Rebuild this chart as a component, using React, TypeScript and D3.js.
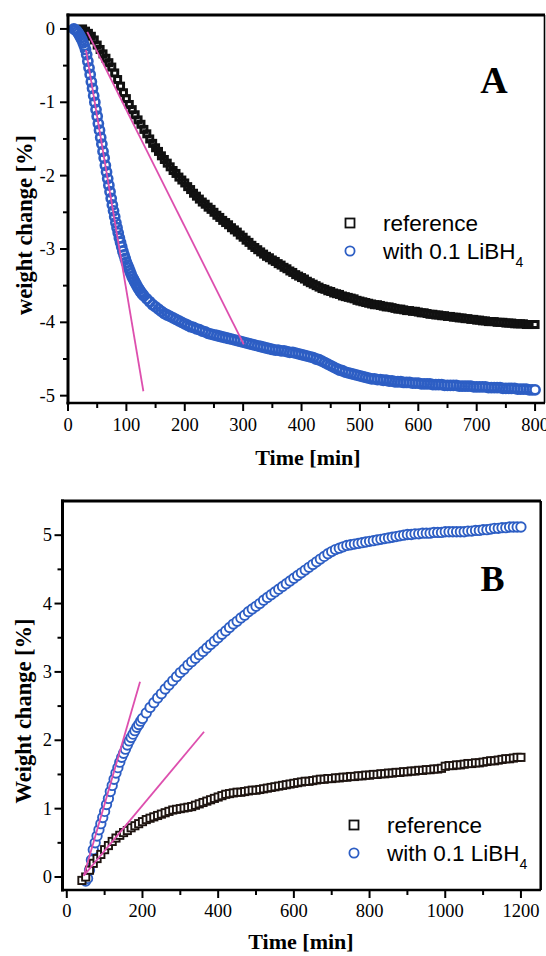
import React from 'react';
import * as d3 from 'd3';

// ---------- Panel A data (weight change %, time in min) ----------
const A_REF_T0 = 25;
const A_REF_DT = 5;
const aReference = [
  0.00, -0.03, -0.06, -0.10, -0.15, -0.22, -0.28, -0.34, -0.40, -0.46,
  -0.52, -0.60, -0.69, -0.78, -0.87, -0.95, -1.03, -1.10, -1.17, -1.24,
  -1.30, -1.37, -1.43, -1.50, -1.56, -1.62, -1.67, -1.73, -1.78, -1.83,
  -1.88, -1.93, -1.97, -2.02, -2.06, -2.10, -2.15, -2.19, -2.24, -2.28,
  -2.32, -2.36, -2.39, -2.43, -2.46, -2.50, -2.54, -2.57, -2.61, -2.64,
  -2.67, -2.71, -2.74, -2.77, -2.81, -2.84, -2.88, -2.91, -2.95, -2.98,
  -3.01, -3.04, -3.07, -3.10, -3.12, -3.15, -3.17, -3.20, -3.22, -3.25,
  -3.27, -3.30, -3.32, -3.35, -3.37, -3.39, -3.41, -3.44, -3.46, -3.48,
  -3.50, -3.52, -3.54, -3.55, -3.57, -3.58, -3.60, -3.61, -3.62, -3.64,
  -3.65, -3.66, -3.67, -3.68, -3.70, -3.71, -3.72, -3.73, -3.74, -3.75,
  -3.76, -3.76, -3.77, -3.78, -3.79, -3.79, -3.80, -3.81, -3.82, -3.82,
  -3.83, -3.84, -3.84, -3.85, -3.85, -3.86, -3.87, -3.87, -3.88, -3.89,
  -3.89, -3.90, -3.90, -3.91, -3.91, -3.92, -3.92, -3.93, -3.93, -3.94,
  -3.94, -3.95, -3.95, -3.96, -3.96, -3.97, -3.97, -3.98, -3.98, -3.99,
  -3.99, -3.99, -4.00, -4.00, -4.00, -4.01, -4.01, -4.01, -4.02, -4.02,
  -4.02, -4.02, -4.03, -4.03, -4.03, -4.03,
];

const A_LIB_EARLY_T0 = 10;
const A_LIB_EARLY_DT = 2;
const aLiBH4Early = [
  0.00, -0.01, -0.02, -0.04, -0.06, -0.09, -0.12, -0.15, -0.19, -0.23,
  -0.28, -0.35, -0.44, -0.53, -0.62, -0.72, -0.81, -0.91, -1.00, -1.10,
  -1.19, -1.29, -1.38, -1.48, -1.57, -1.67, -1.76, -1.86, -1.95, -2.04,
  -2.13, -2.22, -2.31, -2.40, -2.48, -2.56, -2.64, -2.71, -2.78, -2.85,
  -2.91, -2.97, -3.03, -3.08, -3.13, -3.18, -3.22, -3.26, -3.30, -3.34,
  -3.38, -3.41, -3.44, -3.47, -3.50, -3.53, -3.55, -3.58, -3.60, -3.62,
  -3.64,
];
const A_LIB_LATE_T0 = 135;
const A_LIB_LATE_DT = 5;
const aLiBH4Late = [
  -3.68, -3.72, -3.76, -3.79, -3.82, -3.85, -3.88, -3.90, -3.92, -3.94,
  -3.96, -3.98, -4.00, -4.02, -4.04, -4.06, -4.07, -4.09, -4.10, -4.12,
  -4.13, -4.15, -4.16, -4.17, -4.18, -4.19, -4.20, -4.21, -4.22, -4.23,
  -4.24, -4.25, -4.26, -4.27,
  -4.28, -4.29, -4.30, -4.31, -4.32, -4.33, -4.34, -4.35, -4.36, -4.37,
  -4.38, -4.38, -4.39, -4.39, -4.40, -4.41, -4.41, -4.42, -4.43, -4.44,
  -4.45, -4.46, -4.47, -4.48, -4.50, -4.51, -4.53, -4.55, -4.57, -4.59,
  -4.61, -4.63, -4.65, -4.66, -4.68, -4.69, -4.70, -4.71, -4.72, -4.73,
  -4.74, -4.75, -4.76, -4.77, -4.77, -4.78, -4.78, -4.79, -4.79, -4.80,
  -4.80, -4.81, -4.81, -4.81, -4.82, -4.82, -4.82, -4.83, -4.83, -4.83,
  -4.84, -4.84, -4.84, -4.84, -4.85, -4.85, -4.85, -4.85, -4.86, -4.86,
  -4.86, -4.86, -4.86, -4.87, -4.87, -4.87, -4.87, -4.87, -4.88, -4.88,
  -4.88, -4.88, -4.88, -4.89, -4.89, -4.89, -4.89, -4.89, -4.90, -4.90,
  -4.90, -4.90, -4.90, -4.91, -4.91, -4.91, -4.91, -4.92, -4.92, -4.92,
];

// tangent lines [t1, v1, t2, v2]
const aTangents = [
  [30.8, -0.29, 129.1, -4.94],
  [33, -0.04, 301, -4.3],
];

const aXMajor = [0, 100, 200, 300, 400, 500, 600, 700, 800];
const aXMinor = [50, 150, 250, 350, 450, 550, 650, 750];
const aYMajor = [0, -1, -2, -3, -4, -5];
const aYMinor = [-0.5, -1.5, -2.5, -3.5, -4.5];
const aYLabels = ['0', '-1', '-2', '-3', '-4', '-5'];

// ---------- Panel B data ----------
const B_REF_T0 = 40;
const B_REF_DT = 10;
const bReference = [
  -0.05, 0.00, 0.10, 0.20, 0.27, 0.33, 0.40, 0.46, 0.52, 0.57,
  0.61, 0.65, 0.68, 0.72, 0.75, 0.78, 0.81, 0.84, 0.86, 0.88,
  0.90, 0.92, 0.94, 0.96, 0.98, 0.99, 1.00, 1.01, 1.02, 1.03,
  1.05, 1.07, 1.09, 1.11, 1.13, 1.15, 1.17, 1.19, 1.21, 1.22,
  1.23, 1.24, 1.24, 1.25, 1.26, 1.27, 1.27, 1.28, 1.29, 1.30,
  1.31, 1.32, 1.33, 1.34, 1.35, 1.36, 1.37, 1.38, 1.39, 1.40,
  1.40, 1.41, 1.42, 1.43, 1.43, 1.44, 1.44, 1.45, 1.45, 1.46,
  1.46, 1.47, 1.47, 1.48, 1.48, 1.49, 1.49, 1.50, 1.50, 1.51,
  1.51, 1.52, 1.52, 1.53, 1.53, 1.54, 1.54, 1.55, 1.55, 1.56,
  1.56, 1.57, 1.57, 1.58, 1.58, 1.59, 1.62, 1.63, 1.63, 1.64,
  1.64, 1.65, 1.66, 1.66, 1.67, 1.67, 1.68, 1.69, 1.70, 1.70,
  1.71, 1.72, 1.73, 1.73, 1.74, 1.75, 1.75,
];

const B_LIB_EARLY_T0 = 50;
const B_LIB_EARLY_DT = 5;
const bLiBH4Early = [
  -0.06, -0.02, 0.10, 0.25, 0.40, 0.50, 0.60, 0.69, 0.78, 0.87,
  0.96, 1.06, 1.15, 1.25, 1.34, 1.43, 1.52, 1.60, 1.68, 1.75,
  1.81, 1.87, 1.93, 1.99, 2.04, 2.09, 2.14, 2.19, 2.23, 2.28,
  2.32,
];
const B_LIB_LATE_T0 = 210;
const B_LIB_LATE_DT = 10;
const bLiBH4Late = [
  2.40, 2.48, 2.55, 2.62, 2.68, 2.75, 2.81, 2.87, 2.93, 2.99,
  3.04, 3.10, 3.15, 3.20, 3.25, 3.30, 3.35, 3.40, 3.45, 3.50,
  3.55, 3.60, 3.65, 3.70, 3.74, 3.79, 3.83, 3.88, 3.92, 3.96,
  4.00, 4.05, 4.09, 4.13, 4.17, 4.21, 4.25, 4.29, 4.33, 4.37,
  4.41, 4.45, 4.49, 4.53, 4.57, 4.61, 4.65, 4.69, 4.73, 4.76,
  4.79, 4.81, 4.83, 4.85, 4.86, 4.87, 4.88, 4.89, 4.90, 4.91,
  4.92, 4.93, 4.94, 4.95, 4.96, 4.97, 4.98, 4.99, 5.00, 5.01,
  5.01, 5.02, 5.02, 5.03, 5.03, 5.03, 5.04, 5.04, 5.04, 5.05,
  5.05, 5.05, 5.05, 5.05, 5.05, 5.06, 5.06, 5.07, 5.07, 5.08,
  5.08, 5.09, 5.10, 5.10, 5.11, 5.11, 5.12, 5.12, 5.12, 5.12,
];

const bTangents = [
  [45, 0.02, 193.6, 2.855],
  [45, 0.02, 362.7, 2.125],
];

const bXMajor = [0, 200, 400, 600, 800, 1000, 1200];
const bXMinor = [100, 300, 500, 700, 900, 1100];
const bYMajor = [0, 1, 2, 3, 4, 5];
const bYMinor = [0.5, 1.5, 2.5, 3.5, 4.5];

const legendNames = ['reference', 'with 0.1 LiBH'];

// ---------- helpers ----------
type Pt = [number, number];
const toPts = (t0: number, dt: number, vals: number[]): Pt[] => vals.map((v, i) => [t0 + i * dt, v]);

const BLUE = '#2d5ec4';
const BLACK = '#111111';
const MAGENTA = '#dd4fae';
const SERIF = '"Liberation Serif", "Times New Roman", Times, serif';
const SANS = '"Liberation Sans", Arial, Helvetica, sans-serif';

function Squares({ pts, x, y, size, sw, stroke, fill }: any) {
  return (
    <g>
      {pts.map((p: Pt, i: number) => (
        <rect key={i} x={x(p[0]) - size / 2} y={y(p[1]) - size / 2} width={size} height={size}
          fill={i === pts.length - 1 ? '#fff' : fill} stroke={stroke} strokeWidth={sw} />
      ))}
    </g>
  );
}
function Circles({ pts, x, y, r, sw, fill }: any) {
  return (
    <g>
      {pts.map((p: Pt, i: number) => (
        <circle key={i} cx={x(p[0])} cy={y(p[1])} r={r}
          fill={i === pts.length - 1 ? '#fff' : fill} stroke={BLUE} strokeWidth={sw} />
      ))}
    </g>
  );
}

function Axes({ x, y, xMajor, xMinor, yMajor, yMinor, yLabels, xLabelY, yLabelX, frame }: any) {
  const [, x1] = x.range();
  const [yb, yt] = y.range();
  return (
    <g>
      <line x1={frame.left - 1.5} x2={x1} y1={yt} y2={yt} stroke="#000" strokeWidth={frame.top} />
      <line x1={frame.right} x2={frame.right} y1={yt} y2={yb} stroke="#000" strokeWidth={frame.rightW} />
      <line x1={frame.left} x2={frame.left} y1={yt - 1.5} y2={yb + 1.5} stroke="#000" strokeWidth={3} />
      <line x1={frame.left - 1.5} x2={x1} y1={yb} y2={yb} stroke="#000" strokeWidth={2.6} />
      {xMajor.map((t: number) => (
        <g key={'xm' + t}>
          <line x1={x(t)} x2={x(t)} y1={yb} y2={yb + 8} stroke="#000" strokeWidth={2} />
          <text x={x(t)} y={xLabelY} textAnchor="middle" fontFamily={SERIF} fontSize={18.5}>{t}</text>
        </g>
      ))}
      {xMinor.map((t: number) => (
        <line key={'xn' + t} x1={x(t)} x2={x(t)} y1={yb} y2={yb + 5} stroke="#000" strokeWidth={2} />
      ))}
      {yMajor.map((v: number, i: number) => (
        <g key={'ym' + v}>
          <line x1={frame.left - 8} x2={frame.left} y1={y(v)} y2={y(v)} stroke="#000" strokeWidth={2} />
          <text x={yLabelX} y={y(v) + 6} textAnchor="end" fontFamily={SERIF} fontSize={18.5}>{yLabels[i]}</text>
        </g>
      ))}
      {yMinor.map((v: number) => (
        <line key={'yn' + v} x1={frame.left - 5} x2={frame.left} y1={y(v)} y2={y(v)} stroke="#000" strokeWidth={2} />
      ))}
    </g>
  );
}

function Legend({ x, y1, y2 }: any) {
  return (
    <g fontFamily={SANS} fontSize={22.5}>
      <rect x={x - 4.5} y={y1 - 4.5} width={9} height={9} fill="#fff" stroke="#111" strokeWidth={1.8} />
      <circle cx={x} cy={y2} r={4.6} fill="#fff" stroke={BLUE} strokeWidth={1.8} />
      <text x={x + 33} y={y1 + 7.5}>{legendNames[0]}</text>
      <text x={x + 33} y={y2 + 8}>
        {legendNames[1]}
        <tspan fontSize={14} dy={8}>4</tspan>
      </text>
    </g>
  );
}

export default function App() {
  const xA = d3.scaleLinear().domain([0, 817]).range([68, 545]);
  const yA = d3.scaleLinear().domain([-5.1, 0.19]).range([403, 15]);
  const xB = d3.scaleLinear().domain([-10, 1253]).range([63, 541]);
  const yB = d3.scaleLinear().domain([-0.19, 5.5]).range([890, 501]);

  const aRefPts = toPts(A_REF_T0, A_REF_DT, aReference);
  const aLibPts = [
    ...toPts(A_LIB_EARLY_T0, A_LIB_EARLY_DT, aLiBH4Early),
    ...toPts(A_LIB_LATE_T0, A_LIB_LATE_DT, aLiBH4Late),
  ];
  const bRefPts = toPts(B_REF_T0, B_REF_DT, bReference);
  const bLibPts = [
    ...toPts(B_LIB_EARLY_T0, B_LIB_EARLY_DT, bLiBH4Early),
    ...toPts(B_LIB_LATE_T0, B_LIB_LATE_DT, bLiBH4Late),
  ];

  return (
    <svg width={546} height={956} viewBox="0 0 546 956"
      style={{ position: 'absolute', left: 0, top: 0, display: 'block', background: '#fff' }}>
      {/* ===== Panel A ===== */}
      <Squares pts={aRefPts} x={xA} y={yA} size={6} sw={3} stroke={BLACK} fill="none" />
      <Circles pts={aLibPts} x={xA} y={yA} r={4.6} sw={2.6} fill="none" />
      {aTangents.map((l, i) => (
        <line key={'ta' + i} x1={xA(l[0])} y1={yA(l[1])} x2={xA(l[2])} y2={yA(l[3])} stroke={MAGENTA} strokeWidth={1.8} />
      ))}
      <Axes x={xA} y={yA} xMajor={aXMajor} xMinor={aXMinor} yMajor={aYMajor} yMinor={aYMinor}
        yLabels={aYLabels} xLabelY={431} yLabelX={55}
        frame={{ top: 3, right: 544.5, rightW: 1.6, left: 68 }} />
      <text x={494} y={93} textAnchor="middle" fontFamily={SERIF} fontWeight="bold" fontSize={38}>A</text>
      <Legend x={350} y1={223} y2={251} />
      <text x={308} y={465} textAnchor="middle" fontFamily={SERIF} fontWeight="bold" fontSize={22}>Time [min]</text>
      <text transform="translate(32,225) rotate(-90)" textAnchor="middle" fontFamily={SERIF} fontWeight="bold" fontSize={22.5}>weight change [%]</text>

      {/* ===== Panel B ===== */}
      <Circles pts={bLibPts} x={xB} y={yB} r={4.7} sw={1.9} fill="#fff" />
      <Squares pts={bRefPts} x={xB} y={yB} size={7.2} sw={1.9} stroke="#1e1410" fill="#fff" />
      {bTangents.map((l, i) => (
        <line key={'tb' + i} x1={xB(l[0])} y1={yB(l[1])} x2={xB(l[2])} y2={yB(l[3])} stroke={MAGENTA} strokeWidth={1.8} />
      ))}
      <Axes x={xB} y={yB} xMajor={bXMajor} xMinor={bXMinor} yMajor={bYMajor} yMinor={bYMinor}
        yLabels={bYMajor.map(String)} xLabelY={917} yLabelX={52}
        frame={{ top: 3, right: 540.7, rightW: 2.5, left: 62.5 }} />
      <text x={492.5} y={591} textAnchor="middle" fontFamily={SERIF} fontWeight="bold" fontSize={36}>B</text>
      <Legend x={354} y1={825} y2={853} />
      <text x={301} y={949} textAnchor="middle" fontFamily={SERIF} fontWeight="bold" fontSize={22}>Time [min]</text>
      <text transform="translate(31,711) rotate(-90)" textAnchor="middle" fontFamily={SERIF} fontWeight="bold" fontSize={22.5}>Weight change [%]</text>
    </svg>
  );
}
